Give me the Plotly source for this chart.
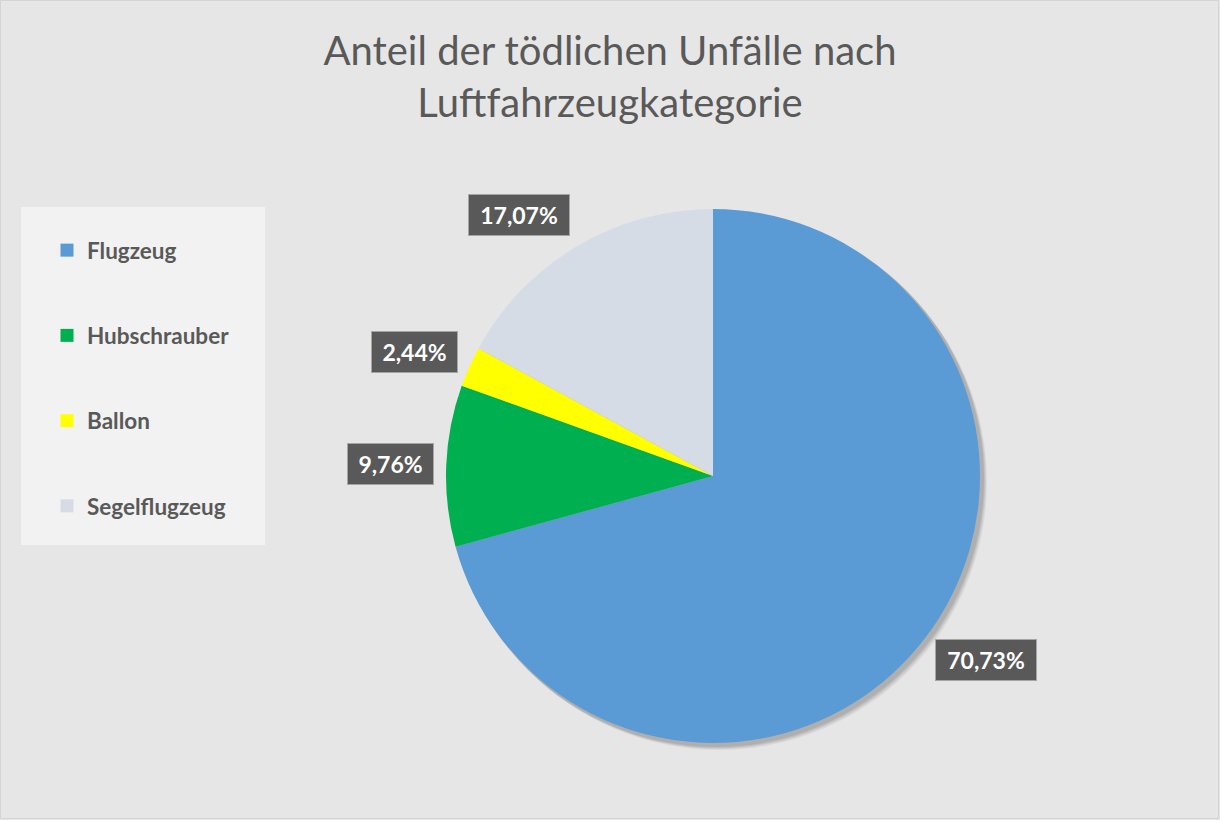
import math
import plotly.graph_objects as go

# ---- data ----
categories = ["Flugzeug", "Hubschrauber", "Ballon", "Segelflugzeug"]
shares = [70.73, 9.76, 2.44, 17.07]
label_texts = ["70,73%", "9,76%", "2,44%", "17,07%"]
colors = ["#5B9BD5", "#00B050", "#FFFF00", "#D6DCE5"]

W, H = 1220, 820
BG = "#E7E6E6"
TXT = "#595959"
FONT = "Lato"

# pie geometry (pixels)
cx, cy, r = 713, 476, 267

fig = go.Figure()

# shadow under pie
for off, op in [(6, 0.05), (5, 0.06), (4, 0.07), (3, 0.08)]:
    fig.add_shape(type="circle", xref="paper", yref="paper",
                  x0=(cx - r + off - 1) / W, x1=(cx + r + off + 1) / W,
                  y0=1 - (cy + r + off + 1) / H, y1=1 - (cy - r + off - 1) / H,
                  fillcolor=f"rgba(0,0,0,{op})", line=dict(width=0), layer="below")

# legend background box
fig.add_shape(type="rect", xref="paper", yref="paper",
              x0=21 / W, x1=265 / W, y0=1 - 545 / H, y1=1 - 207 / H,
              fillcolor="#F2F2F2", line=dict(width=0), layer="below")

# thin outer frame
fig.add_shape(type="rect", xref="paper", yref="paper",
              x0=0.5 / W, x1=1 - 1.5 / W, y0=1.5 / H, y1=1 - 0.5 / H,
              fillcolor="rgba(0,0,0,0)", line=dict(width=1, color="#D4D4D4"), layer="below")

fig.add_trace(go.Pie(
    labels=categories, values=shares, sort=False, direction="clockwise", rotation=0,
    marker=dict(colors=colors, line=dict(width=0)),
    textinfo="none", hoverinfo="label+percent", showlegend=False,
    domain=dict(x=[(cx - r) / W, (cx + r) / W], y=[1 - (cy + r) / H, 1 - (cy - r) / H]),
))

# legend entries
for i, (cat, col) in enumerate(zip(categories, colors)):
    fig.add_trace(go.Scatter(
        x=[None], y=[None], mode="markers", name=cat, legendgroup=f"g{i}",
        marker=dict(symbol="square", size=13, color=col),
    ))

# data labels: box placed beside the point on the mid-angle ray just outside the pie
def clamp(t):
    return max(-1.0, min(1.0, t))

total = sum(shares)
cum = 0.0
annotations = []
for v, t in zip(shares, label_texts):
    mid = (cum + v / 2) / total * 2 * math.pi
    cum += v
    s, c = math.sin(mid), math.cos(mid)
    R = r + 12
    px = cx + R * s
    py = cy - R * c
    bw = 102 if len(t) >= 6 else 87
    bh = 42
    bx = px + bw / 2 * clamp(2 * s)
    by = py - bh / 2 * clamp(1.2 * c)
    annotations.append(dict(
        x=bx / W, y=1 - by / H, xref="paper", yref="paper", text=t,
        showarrow=False, xanchor="center", yanchor="middle",
        width=bw - 14, height=bh - 14, align="center", valign="middle",
        font=dict(family=FONT, size=23, color="white", weight="bold"),
        bgcolor=TXT, bordercolor="#A6A6A6", borderwidth=1, borderpad=6,
    ))

fig.update_layout(
    width=W, height=H,
    paper_bgcolor=BG, plot_bgcolor=BG,
    margin=dict(l=0, r=0, t=0, b=0),
    title=dict(text="Anteil der tödlichen Unfälle nach<br>Luftfahrzeugkategorie",
               x=0.5, xanchor="center", y=1 - 65 / H, yanchor="top",
               font=dict(family=FONT, size=40, color=TXT)),
    xaxis=dict(visible=False), yaxis=dict(visible=False),
    legend=dict(x=47 / W, y=1 - 229 / H, xanchor="left", yanchor="top",
                bgcolor="rgba(0,0,0,0)", tracegroupgap=53,
                font=dict(family=FONT, size=22.5, color=TXT, weight="bold")),
    annotations=annotations,
    showlegend=True,
)

fig.write_html("out.html", config={"displayModeBar": False},
               post_script="document.body.style.margin='0';")
